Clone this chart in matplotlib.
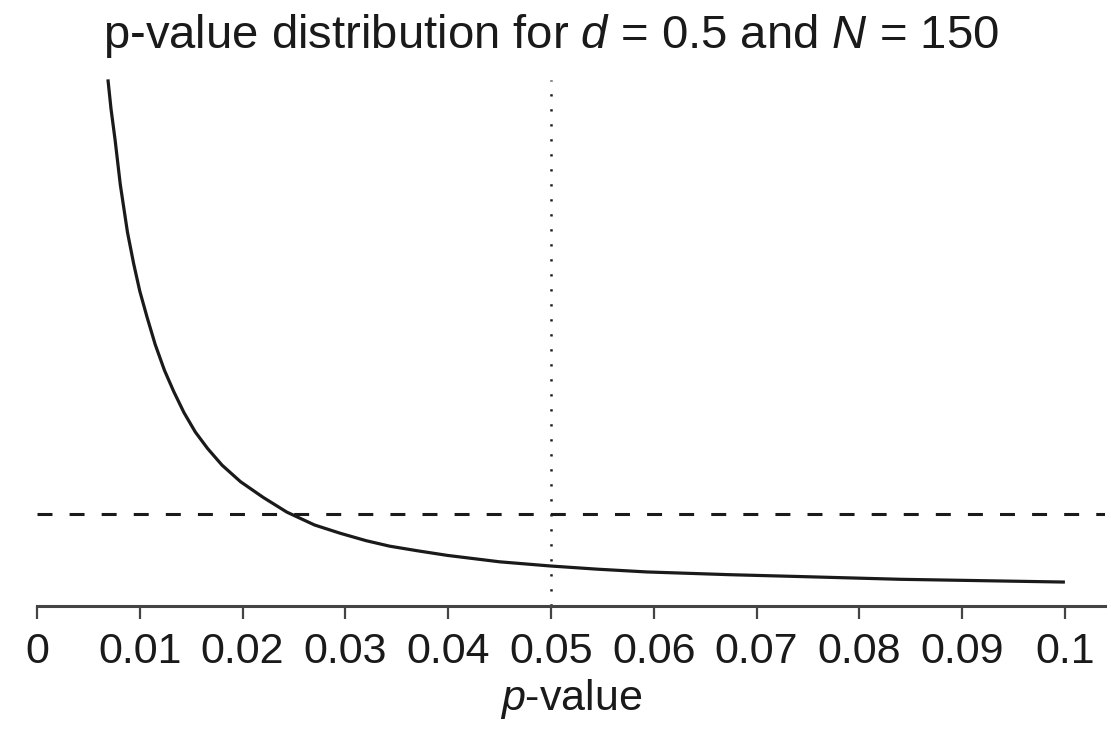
import matplotlib
matplotlib.use("Agg")
import matplotlib.pyplot as plt
from matplotlib import font_manager

# font: a narrow sans if present
names = set(f.name for f in font_manager.fontManager.ttflist)
if "Liberation Sans Narrow" in names:
    plt.rcParams["font.family"] = ["Liberation Sans Narrow", "DejaVu Sans"]
else:
    plt.rcParams["font.family"] = ["Liberation Sans", "DejaVu Sans"]
plt.rcParams["mathtext.fontset"] = "custom"
plt.rcParams["mathtext.it"] = plt.rcParams["font.family"][0] + ":italic"
plt.rcParams["mathtext.rm"] = plt.rcParams["font.family"][0]

# data
p_values = [0.0069, 0.0072, 0.0076, 0.0081, 0.0088, 0.0094, 0.0100, 0.0107,
            0.0115, 0.0124, 0.0133, 0.0143, 0.0154, 0.0166, 0.0180, 0.0198,
            0.0220, 0.0243, 0.0270, 0.0295, 0.0320, 0.0343, 0.0370, 0.0399,
            0.0450, 0.0499, 0.0545, 0.0593, 0.0674, 0.0742, 0.0840, 0.0920,
            0.1000]
density = [5.72, 5.40, 5.06, 4.58, 4.06, 3.72, 3.42, 3.14,
           2.84, 2.56, 2.33, 2.10, 1.89, 1.71, 1.53, 1.35,
           1.18, 1.02, 0.88, 0.79, 0.71, 0.65, 0.60, 0.55,
           0.48, 0.435, 0.40, 0.37, 0.34, 0.32, 0.29, 0.275,
           0.26]
null_density = 1.0
alpha = 0.05
tick_values = [0, 0.01, 0.02, 0.03, 0.04, 0.05, 0.06, 0.07, 0.08, 0.09, 0.1]
tick_labels = ["0", "0.01", "0.02", "0.03", "0.04", "0.05", "0.06", "0.07", "0.08", "0.09", "0.1"]

W, H = 1111, 731
fig = plt.figure(figsize=(W / 100, H / 100), dpi=100)
ax = fig.add_axes([37 / W, 1 - 606 / H, (1105 - 37) / W, (606 - 72) / H])

ax.plot(p_values, density, color="#1a1a1a", lw=2.3, solid_capstyle="butt",
        solid_joinstyle="round")
ax.axhline(null_density, color="#1a1a1a", lw=2.2, linestyle=(0, (4.9, 5.6)))
ax.axvline(alpha, ymax=(606 - 80) / (606 - 72), color="#1a1a1a", lw=1.8,
           linestyle=(0, (0.9, 5.1)))

ax.set_xlim(0, 0.1039)
ax.set_ylim(0, 5.8)

for s in ["top", "right", "left"]:
    ax.spines[s].set_visible(False)
ax.spines["bottom"].set_color("#444444")
ax.spines["bottom"].set_linewidth(2.2)
ax.set_yticks([])
ax.set_xticks(tick_values)
ax.set_xticklabels(tick_labels)
ax.tick_params(axis="x", direction="out", length=9.5, width=1.6, color="#444444",
               labelsize=31, labelcolor="#1a1a1a", pad=9)

ax.set_xlabel(r"$p$-value", fontsize=31, color="#1a1a1a", labelpad=4)
fig.text(551 / W, 1 - 36 / H, r"p-value distribution for $d$ = 0.5 and $N$ = 150",
         ha="center", va="center", fontsize=34, color="#1a1a1a")

fig.savefig("out.png", dpi=100)
